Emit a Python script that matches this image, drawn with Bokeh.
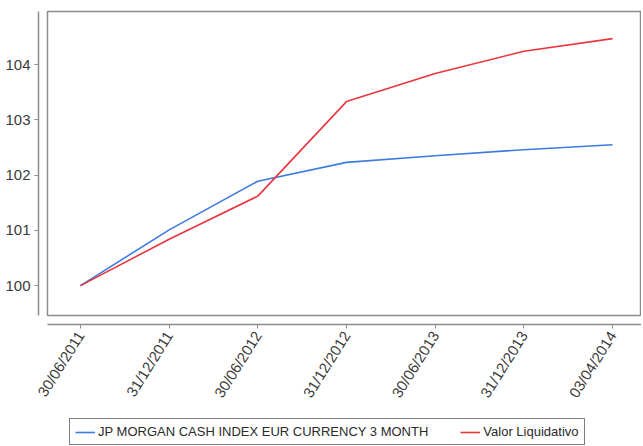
from bokeh.plotting import figure
from bokeh.layouts import column
from bokeh.models import FixedTicker, LinearAxis, Legend, LegendItem, Range1d
from bokeh.embed import file_html
from bokeh.resources import INLINE

dates = ["30/06/2011", "31/12/2011", "30/06/2012", "31/12/2012", "30/06/2013", "31/12/2013", "03/04/2014"]
jpm = [100.0, 101.01, 101.89, 102.23, 102.35, 102.46, 102.55]
valor = [100.0, 100.84, 101.62, 103.33, 103.84, 104.24, 104.47]
y_ticks = [100, 101, 102, 103, 104]
series_names = ["JP MORGAN CASH INDEX EUR CURRENCY 3 MONTH", "Valor Liquidativo"]
colors = ["#3d7be0", "#e8363f"]
grey = "#8c8c8c"

xs = list(range(len(dates)))

p = figure(width=641, height=410, output_backend="svg", toolbar_location=None,
           x_range=Range1d(-0.372, 6.327), y_range=Range1d(99.46, 104.96),
           x_axis_location=None, y_axis_location=None,
           min_border_top=11, min_border_right=0, min_border_left=47, min_border_bottom=95)
p.grid.visible = False
p.outline_line_color = grey
p.outline_line_width = 1.5
p.background_fill_color = "white"
p.border_fill_color = "white"


def spacer():
    # invisible axis that only reserves a small gap between frame and real axis
    return LinearAxis(ticker=FixedTicker(ticks=[]), axis_line_color=None,
                      major_tick_line_color=None, minor_tick_line_color=None,
                      major_label_text_font_size="1px", major_tick_out=0, major_tick_in=0,
                      minor_tick_out=0, minor_tick_in=0, major_label_standoff=0,
                      axis_label="\u00a0", axis_label_text_font_size="1px",
                      axis_label_standoff=5, axis_label_text_color=None)


p.add_layout(spacer(), "below")
p.add_layout(spacer(), "left")

xa = LinearAxis(ticker=FixedTicker(ticks=xs),
                major_label_overrides={i: d for i, d in enumerate(dates)},
                major_label_orientation=1.01)
ya = LinearAxis(ticker=FixedTicker(ticks=y_ticks))
for a in (xa, ya):
    a.axis_line_color = grey
    a.axis_line_width = 1.5
    a.major_tick_line_color = grey
    a.major_tick_out = 4
    a.major_tick_in = 0
    a.minor_tick_line_color = None
    a.major_label_text_font = "Liberation Sans"
    a.major_label_text_font_size = "15px"
    a.major_label_text_color = "#3a3a3a"
    a.major_label_standoff = 4
p.add_layout(xa, "below")
p.add_layout(ya, "left")

p.line(xs, jpm, line_color=colors[0], line_width=1.6)
p.line(xs, valor, line_color=colors[1], line_width=1.6)

# legend-only strip
q = figure(width=641, height=36, output_backend="svg", toolbar_location=None,
           x_range=Range1d(0, 1), y_range=Range1d(0, 1),
           x_axis_location=None, y_axis_location=None,
           min_border=0)
q.grid.visible = False
q.outline_line_color = None
d1 = q.line([-5, -4], [-5, -4], line_color=colors[0], line_width=1.6)
d2 = q.line([-5, -4], [-5, -4], line_color=colors[1], line_width=1.6)
legend = Legend(items=[LegendItem(label=series_names[0], renderers=[d1]),
                       LegendItem(label=series_names[1], renderers=[d2])],
                orientation="horizontal", location=(22, 1),
                border_line_color="black", border_line_width=1,
                label_text_font="Liberation Sans", label_text_font_size="13px",
                label_text_color="#2a2a2a",
                glyph_width=20, glyph_height=12, label_standoff=3, spacing=32,
                padding=5, margin=0, label_height=14)
q.add_layout(legend)

open("out.html", "w").write(file_html(column(p, q, spacing=0), INLINE))
